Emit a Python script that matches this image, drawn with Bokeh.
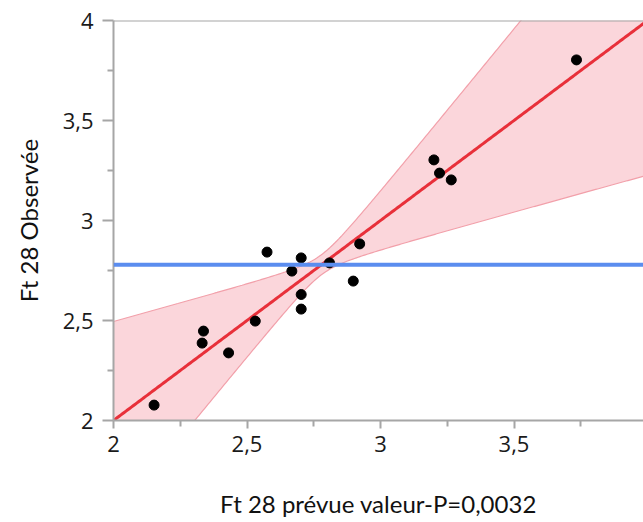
import numpy as np
from bokeh.plotting import figure
from bokeh.models import Range1d, FixedTicker, Span, ColumnDataSource
from bokeh.embed import file_html
from bokeh.resources import INLINE

predicted = [2.152, 2.337, 2.332, 2.431, 2.531, 2.575, 2.668, 2.703, 2.703, 2.703,
             2.809, 2.898, 2.922, 3.200, 3.221, 3.265, 3.734]
observed = [2.077, 2.447, 2.387, 2.338, 2.497, 2.842, 2.747, 2.813, 2.630, 2.557,
            2.788, 2.697, 2.883, 3.303, 3.237, 3.203, 3.803]
tick_values = [2, 2.5, 3, 3.5, 4]
tick_labels = ["2", "2,5", "3", "3,5", "4"]
minor_values = [2.25, 2.75, 3.25, 3.75]
x_title = "Ft 28 prévue valeur-P=0,0032"
y_title = "Ft 28 Observée"

# confidence curve shape
band_min_half = 0.05
band_slope = 0.632

y_mean = float(np.mean(observed))

p = figure(width=643, height=522, output_backend="svg", toolbar_location=None,
           x_range=Range1d(2, 3.985), y_range=Range1d(2, 4),
           min_border_left=113, min_border_top=20, min_border_right=0,
           min_border_bottom=102)
p.outline_line_color = None
p.grid.visible = False
p.background_fill_color = "white"

# band
bx = np.linspace(2, 4, 300)
half = np.sqrt(band_min_half ** 2 + band_slope ** 2 * (bx - y_mean) ** 2)
src = ColumnDataSource(dict(x=bx, lo=bx - half, hi=bx + half, fit=bx))
p.varea(x="x", y1="lo", y2="hi", source=src, fill_color="#fbd6db", fill_alpha=1)
p.line(x="x", y="lo", source=src, line_color="#f2a0aa", line_width=1.2)
p.line(x="x", y="hi", source=src, line_color="#f2a0aa", line_width=1.2)

# mean line
p.add_layout(Span(location=y_mean, dimension="width", line_color="#5b8def",
                  line_width=4))
# top border
p.add_layout(Span(location=4, dimension="width", line_color="#a6a6a6",
                  line_width=2))

# fit line
p.line(x="x", y="fit", source=src, line_color="#e8303a", line_width=3)

# points
p.scatter(predicted, observed, size=10, fill_color="black", line_color="black")

for ax in (p.xaxis[0], p.yaxis[0]):
    ax.ticker = FixedTicker(ticks=tick_values, minor_ticks=minor_values)
    ax.major_label_overrides = {v: l for v, l in zip(tick_values, tick_labels)}
    ax.axis_line_color = "#a6a6a6"
    ax.axis_line_width = 2
    ax.major_tick_line_color = "#a6a6a6"
    ax.minor_tick_line_color = "#a6a6a6"
    ax.major_tick_line_width = 2
    ax.minor_tick_line_width = 2
    ax.major_tick_in = 0
    ax.minor_tick_in = 0
    ax.minor_tick_out = 6
    ax.major_label_text_font = "Open Sans"
    ax.major_label_text_font_size = "22px"
    ax.major_label_text_color = "#1a1a1a"
    ax.axis_label_text_font = "Lato"
    ax.axis_label_text_font_style = "normal"
    ax.axis_label_text_color = "#111111"
    ax.axis_label_text_font_size = "24px"

p.xaxis[0].axis_label = x_title
p.xaxis[0].major_tick_out = 8
p.xaxis[0].major_label_standoff = 7
p.xaxis[0].axis_label_standoff = 34

p.yaxis[0].axis_label = y_title
p.yaxis[0].major_tick_out = 11
p.yaxis[0].major_label_standoff = 9
p.yaxis[0].axis_label_standoff = 17

open("out.html", "w").write(file_html(p, INLINE))
